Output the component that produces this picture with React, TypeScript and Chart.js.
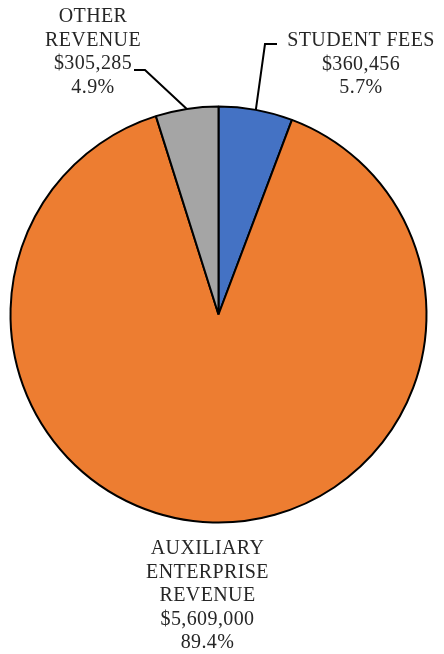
import React, { useEffect, useRef } from "react";
import { Chart, registerables } from "chart.js";

Chart.register(...registerables);

const categories = ["STUDENT FEES", "AUXILIARY ENTERPRISE REVENUE", "OTHER REVENUE"];
const labelLines = [["STUDENT FEES"], ["AUXILIARY", "ENTERPRISE", "REVENUE"], ["OTHER", "REVENUE"]];
const values = [360456, 5609000, 305285];
const colors = ["#4472C4", "#ED7D31", "#A5A5A5"];

const fmtMoney = (v: number) => "$" + v.toLocaleString("en-US");

export default function App() {
  const ref = useRef<HTMLCanvasElement | null>(null);
  useEffect(() => {
    if (!ref.current) return;
    const total = values.reduce((a, b) => a + b, 0);
    // label anchor: [centerX, firstBaselineY], leader elbow: [x, y, endX]
    const labelPos = [
      { x: 361, y: 46, elbow: [265, 44, 277] },
      { x: 207.5, y: 554, elbow: null },
      { x: 93, y: 22, elbow: [145, 70, 134] },
    ];
    const labelPlugin = {
      id: "pieLabels",
      afterDraw(chart: any) {
        const ctx = chart.ctx as CanvasRenderingContext2D;
        const meta = chart.getDatasetMeta(0);
        ctx.save();
        meta.data.forEach((arc: any, i: number) => {
          const p = labelPos[i];
          const lines = [...labelLines[i], fmtMoney(values[i]), ((values[i] / total) * 100).toFixed(1) + "%"];
          if (p.elbow) {
            const mid = (arc.startAngle + arc.endAngle) / 2;
            const sx = arc.x + Math.cos(mid) * arc.outerRadius;
            const sy = arc.y + Math.sin(mid) * arc.outerRadius;
            ctx.beginPath();
            ctx.strokeStyle = "#000";
            ctx.lineWidth = 2;
            ctx.moveTo(sx, sy);
            ctx.lineTo(p.elbow[0], p.elbow[1]);
            ctx.lineTo(p.elbow[2], p.elbow[1]);
            ctx.stroke();
          }
          ctx.fillStyle = "#262626";
          ctx.font = "20px 'Liberation Serif'";
          (ctx as any).letterSpacing = "0.4px";
          ctx.textAlign = "center";
          ctx.textBaseline = "alphabetic";
          lines.forEach((t, k) => ctx.fillText(t, p.x, p.y + k * 23.6));
        });
        ctx.restore();
      },
    };
    const chart = new Chart(ref.current, {
      type: "pie",
      data: {
        labels: categories,
        datasets: [
          {
            data: values,
            backgroundColor: colors,
            borderColor: "#000000",
            borderWidth: 2,
          },
        ],
      },
      options: {
        responsive: false,
        animation: false,
        radius: 208,
        layout: { padding: { left: 0, right: 7, top: 0, bottom: 25 } },
        plugins: { legend: { display: false }, tooltip: { enabled: false } },
      } as any,
      plugins: [labelPlugin],
    });
    return () => chart.destroy();
  }, []);
  return (
    <div style={{ position: "fixed", left: 0, top: 0, width: 444, height: 654, background: "#fff" }}>
      <canvas ref={ref} width={444} height={654} style={{ width: 444, height: 654 }} />
    </div>
  );
}
